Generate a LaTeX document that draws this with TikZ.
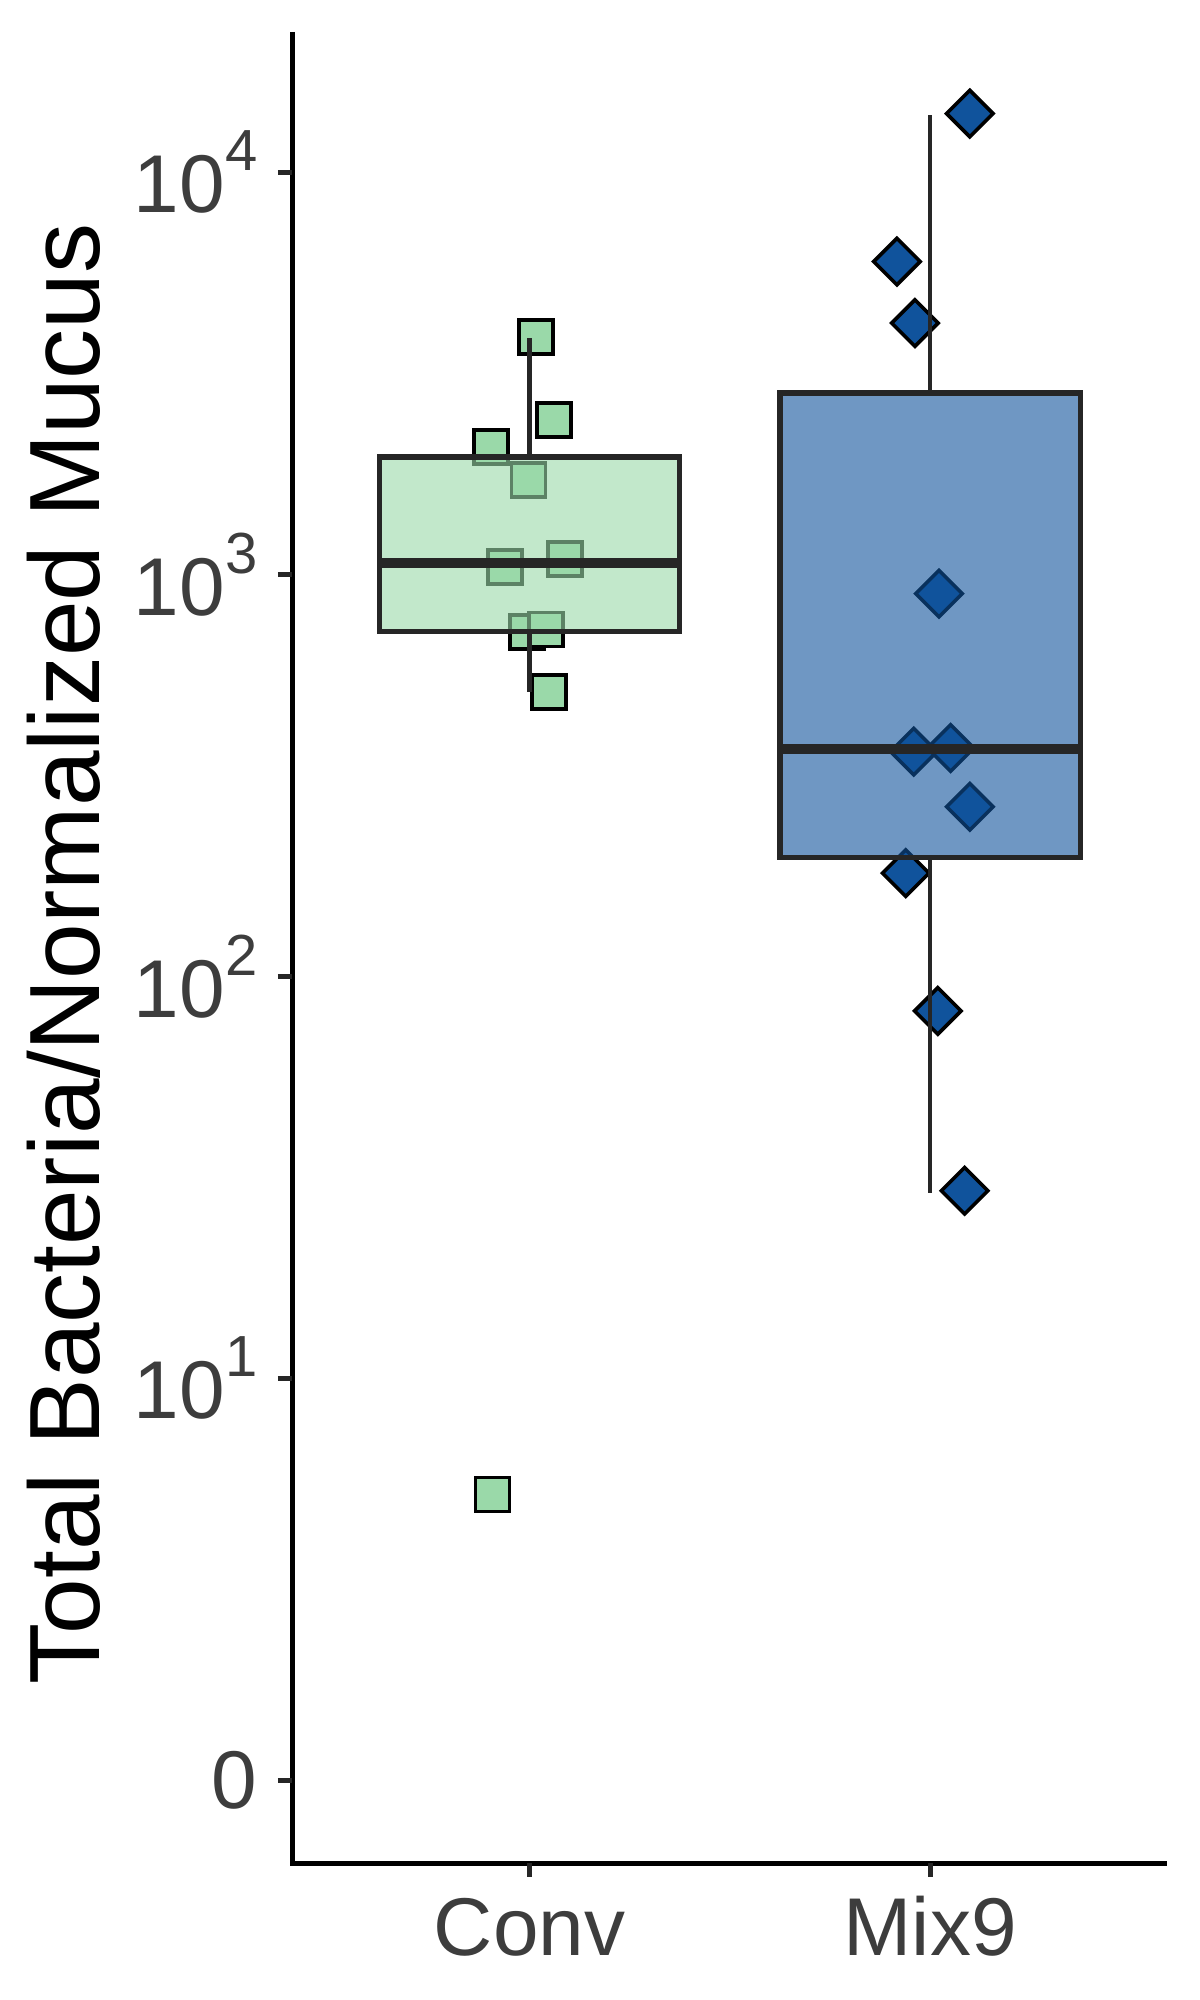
\documentclass[tikz,border=0pt]{standalone}
\usepackage{fontspec}
\setmainfont{Liberation Sans}
\usetikzlibrary{shapes.geometric}

\definecolor{convgreen}{HTML}{9AD9A9}
\definecolor{mixblue}{HTML}{10539C}
\definecolor{boxline}{HTML}{262626}
\definecolor{ticktext}{HTML}{3D3D3D}

\newcommand{\decade}[1]{10\raisebox{21pt}{\fontsize{29}{29}\selectfont #1}}

\begin{document}
\begin{tikzpicture}[x=200.4pt, y=201.1pt,
    convpt/.style={rectangle, draw=black, fill=convgreen, line width=1.8pt, minimum size=17pt, inner sep=0pt},
    mixpt/.style={diamond, aspect=1, draw=black, fill=mixblue, line width=1.8pt, minimum size=24pt, inner sep=0pt},
    boxbody/.style={draw=boxline, line width=2.6pt, fill opacity=0.6},
    median/.style={draw=boxline, line width=5pt},
    whisker/.style={draw=boxline, line width=2.3pt},
    axisline/.style={draw=black, line width=2.6pt},
    tickline/.style={draw=boxline, line width=2.4pt},
    ticklabel/.style={text=ticktext, font=\fontsize{41}{41}\selectfont, inner sep=0pt}]

    \fill[white] (-0.3217,-0.546) rectangle (2.672,4.4286);
    \useasboundingbox (-0.3217,-0.546) rectangle (2.672,4.4286);

    % points first, boxes go over them
    \foreach \px/\py [count=\i] in {1.016/3.590, 1.061/3.384, 0.904/3.317, 0.997/3.235, 0.939/3.019,
        1.089/3.038, 0.994/2.857, 1.041/2.863, 1.048/2.708, 0.908/0.711}
        \node[convpt] (conv\i) at (\px,\py) {};
    \foreach \px/\py [count=\i] in {2.099/4.146, 1.917/3.778, 1.962/3.625, 2.022/2.952, 1.959/2.559,
        2.051/2.568, 2.099/2.422, 1.939/2.257, 2.019/1.914, 2.086/1.467}
        \node[mixpt] (mix\i) at (\px,\py) {};

    % Conv box
    \draw[whisker] (1,3.292) -- (1,3.587);
    \draw[whisker] (1,2.857) -- (1,2.708);
    \draw[boxbody, fill=convgreen] (0.625,2.857) rectangle (1.375,3.292);
    \draw[median] (0.625,3.029) -- (1.375,3.029);

    % Mix9 box
    \draw[whisker] (2,3.451) -- (2,4.143);
    \draw[whisker] (2,2.295) -- (2,1.460);
    \draw[boxbody, fill=mixblue] (1.625,2.295) rectangle (2.375,3.451);
    \draw[median] (1.625,2.565) -- (2.375,2.565);

    % axes
    \draw[axisline] (0.4076,4.349) -- (0.4076,-0.206) -- (2.592,-0.206);
    \foreach \d in {0,...,4}
        \draw[tickline] (0.372,\d) -- (0.4076,\d);
    \foreach \c in {1,2}
        \draw[tickline] (\c,-0.206) -- (\c,-0.241);

    \node[ticklabel, anchor=east] (ylab0) at (0.3217,0) {0};
    \foreach \d in {1,...,4}
        \node[ticklabel, anchor=east] (ylab\d) at (0.3217,\d) {\decade{\d}};

    \node[ticklabel, anchor=base] (convlab) at (1,-0.435) {Conv};
    \node[ticklabel, anchor=base] (mixlab) at (2,-0.435) {Mix9};

    \node[rotate=90, anchor=base, inner sep=0pt, font=\fontsize{50}{50}\selectfont] (ytitle) at (-0.0732,2.056) {Total Bacteria/Normalized Mucus};
\end{tikzpicture}
\end{document}
